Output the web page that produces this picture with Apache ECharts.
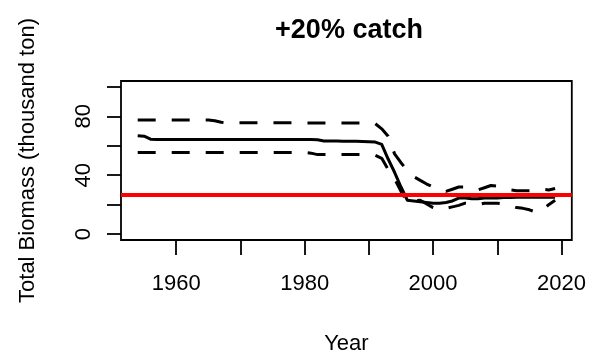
<!DOCTYPE html>
<html>
<head>
<meta charset="utf-8">
<script src="https://cdn.jsdelivr.net/npm/echarts@6/dist/echarts.min.js"></script>
<style>
html,body{margin:0;padding:0;background:#fff;}
#chart{width:589px;height:356px;}
</style>
</head>
<body>
<div id="chart"></div>
<script>
var years = [1954,1955,1956,1957,1958,1959,
  1960,1961,1962,1963,1964,1965,1966,1967,1968,1969,
  1970,1971,1972,1973,1974,1975,1976,1977,1978,1979,
  1980,1981,1982,1983,1984,1985,1986,1987,1988,1989,
  1990,1991,1992,1993,1994,1995,1996,1997,1998,1999,
  2000,2001,2002,2003,2004,2005,2006,2007,2008,2009,
  2010,2011,2012,2013,2014,2015,2016,2017,2018,2019];

var median = [66.8,66.5,64.5,64.2,64.2,64.2,
  64.2,64.2,64.2,64.2,64.2,64.2,64.2,64.2,64.2,64.2,
  64.2,64.2,64.2,64.2,64.2,64.2,64.2,64.2,64.2,64.2,
  64.2,64.2,64.1,63.3,63.2,63.2,63.1,63.1,63.0,62.9,
  62.8,62.5,61,51,42,32,23,22.5,22,21.5,
  21,21,21.5,22.5,24.5,24.5,24,24,24.5,24.5,
  24.5,24.8,24.8,25,25,25,25,25,25,25];

var upper = [77.5,77.5,77.5,77.5,77.5,77.5,
  77.5,77.5,77.5,77.5,77.5,77.5,77,76,75.6,75.6,
  75.6,75.6,75.6,75.6,75.6,75.6,75.6,75.6,75.6,75.6,
  75.5,75.5,75.5,75.5,75.5,75.5,75.5,75.5,75.5,75.5,
  75.3,75,71.5,66.5,54.5,48.5,43,39,36.5,34,
  32,30.5,29,30.5,32,32,31,30,31.5,33,
  32.5,31,30,29.5,29.5,29.5,30,30.5,30,31];

var lower = [55.5,55.5,55.5,55.5,55.5,55.5,
  55.5,55.5,55.5,55.5,55.5,55.5,55.5,55.5,55.5,55.5,
  55.5,55.5,55.5,55.5,55.5,55.5,55.5,55.5,55.5,55.5,
  55.5,55,54,54,54,54,54,54,54,54,
  53.8,53.5,51.5,44,37.5,29,21.5,22.5,23,20.5,
  18,16.5,17.5,18.5,19.5,21,20.5,20,21,21,
  21,20.5,19.5,18,17.5,16.5,15,16,20,23];

var refLevel = 27;
var xTicks = [1960,1970,1980,1990,2000,2010,2020];
var xLabels = [1960,1980,2000,2020];
var yTicks = [0,20,40,60,80,100];
var yLabels = [0,40,80];

function pairs(vals){ return years.map(function(y,i){ return [y, vals[i]]; }); }

var FONT = '"Liberation Sans", Arial, sans-serif';
var chart = echarts.init(document.getElementById('chart'), null, {renderer:'canvas'});
chart.setOption({
  animation: false,
  backgroundColor: '#fff',
  title: {
    text: '+20% catch',
    left: 344, top: 12, textAlign: 'center',
    textStyle: {fontFamily: FONT, fontSize: 27, fontWeight: 'bold', color: '#000'}
  },
  grid: {left: 121, right: 17, top: 81, bottom: 115, show: true, borderColor: '#000', borderWidth: 1.8, backgroundColor: 'transparent'},
  xAxis: {
    type: 'value', min: 1951.4, max: 2021.6,
    name: 'Year', nameLocation: 'middle', nameGap: 93,
    nameTextStyle: {fontFamily: FONT, fontSize: 22, color: '#000'},
    axisLine: {show: false, onZero: false},
    splitLine: {show: false},
    axisTick: {show: true, inside: false, length: 15, customValues: xTicks, lineStyle: {color: '#000', width: 1.8}},
    axisLabel: {customValues: xLabels, margin: 33, fontFamily: FONT, fontSize: 22, color: '#000',
      formatter: function(v){ return String(v); }}
  },
  yAxis: {
    type: 'value', min: -4, max: 104,
    name: 'Total Biomass (thousand ton)', nameLocation: 'middle', nameGap: 82,
    nameTextStyle: {fontFamily: FONT, fontSize: 22, color: '#000'},
    axisLine: {show: false, onZero: false},
    splitLine: {show: false},
    axisTick: {show: true, inside: false, length: 14, customValues: yTicks, lineStyle: {color: '#000', width: 1.8}},
    axisLabel: {customValues: yLabels, rotate: 90, margin: 26, fontFamily: FONT, fontSize: 22, color: '#000',
      formatter: function(v){ return String(v); }}
  },
  series: [
    {type: 'line', data: pairs(median), showSymbol: false, symbol: 'none',
     lineStyle: {color: '#000', width: 3, type: 'solid', join: 'round'}},
    {type: 'line', data: pairs(lower), showSymbol: false, symbol: 'none',
     lineStyle: {color: '#000', width: 3, type: [18, 16], cap: 'butt'}},
    {type: 'line', data: pairs(upper), showSymbol: false, symbol: 'none',
     lineStyle: {color: '#000', width: 3, type: [18, 16], cap: 'butt'},
     markLine: {silent: true, symbol: ['none','none'], label: {show: false},
       lineStyle: {color: '#ff0000', width: 4, type: 'solid'},
       data: [{yAxis: refLevel}]}}
  ]
});
</script>
</body>
</html>
